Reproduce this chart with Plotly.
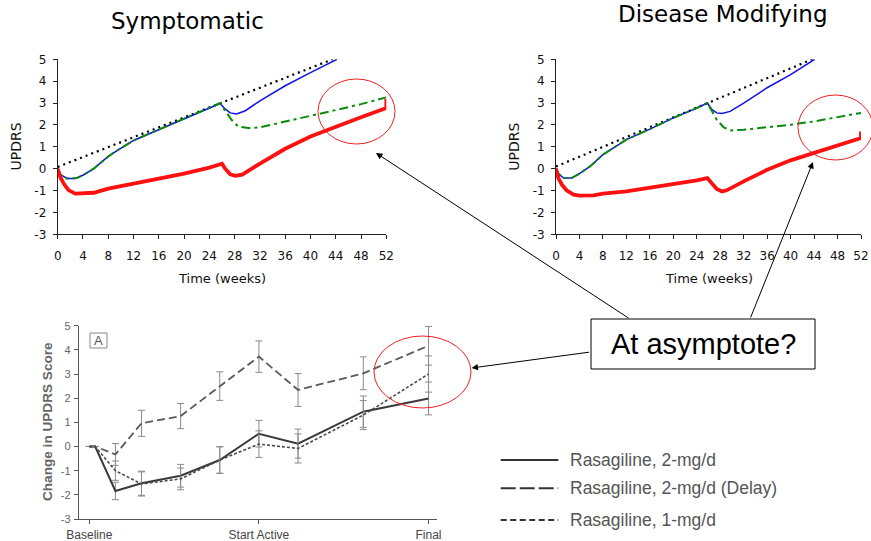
import plotly.graph_objects as go

W, H = 871, 541


def px(x):
    return x / W


def py(y):
    return 1 - y / H


# ---------------- data: top-left "Symptomatic" panel ----------------
sym_blue_wk = [0, 0.5, 1.5, 2.8, 4, 5.7, 8, 9.4, 12, 16, 20, 24, 25.7, 26.5, 27.3, 28.3, 29.7, 32, 36, 40, 44, 44.2]
sym_blue_val = [0, -0.28, -0.45, -0.45, -0.3, 0, 0.56, 0.83, 1.29, 1.79, 2.27, 2.77, 2.98, 2.73, 2.55, 2.5, 2.65, 3.1, 3.79, 4.39, 4.95, 5.0]

sym_green_wk = [0, 0.5, 1.2, 3.0, 4, 5.7, 8, 9.4, 12, 16, 20, 24, 25.7, 26.5, 27.6, 28.6, 30.2, 32, 36, 40, 44, 48, 52]
sym_green_val = [0, -0.3, -0.45, -0.43, -0.3, 0, 0.56, 0.83, 1.29, 1.79, 2.27, 2.77, 3.0, 2.65, 2.2, 1.92, 1.86, 1.89, 2.15, 2.39, 2.68, 2.95, 3.26]

sym_red_wk = [0, 0.4, 0.95, 1.7, 2.8, 4, 5.7, 8, 12, 16, 20, 24, 26, 26.5, 27.3, 28.1, 29.2, 32, 36, 40, 44, 48, 52, 52]
sym_red_val = [0, -0.38, -0.68, -0.98, -1.14, -1.14, -1.1, -0.91, -0.68, -0.45, -0.23, 0.05, 0.23, 0.0, -0.26, -0.33, -0.27, 0.23, 0.91, 1.47, 1.92, 2.35, 2.77, 3.18]

sym_black_wk = [0, 43.5]
sym_black_val = [0.08, 5.0]

# ---------------- data: top-right "Disease Modifying" panel ----------------
dm_blue_wk = [0, 0.5, 1.3, 2.7, 4, 5.8, 8, 12, 16, 20, 24, 25.8, 26.6, 27.4, 28.3, 29.7, 32, 36, 40, 44, 44.1]
dm_blue_val = [0, -0.25, -0.43, -0.43, -0.23, 0.1, 0.64, 1.33, 1.81, 2.32, 2.77, 3.0, 2.7, 2.55, 2.52, 2.62, 3.0, 3.7, 4.3, 4.98, 5.0]

dm_green_wk = [0, 0.5, 1.3, 2.7, 4, 5.8, 8, 12, 16, 20, 24, 25.8, 26.6, 27.4, 28.6, 29.7, 32, 36, 40, 44, 48, 52]
dm_green_val = [0, -0.27, -0.43, -0.42, -0.23, 0.1, 0.64, 1.33, 1.81, 2.32, 2.77, 3.0, 2.62, 2.24, 1.89, 1.75, 1.78, 1.89, 2.01, 2.16, 2.36, 2.55]

dm_red_wk = [0, 0.4, 1, 1.8, 3, 4, 6.4, 8, 12, 16, 20, 24, 25.8, 26.6, 27.4, 28.3, 29.1, 32, 36, 40, 44, 48, 52, 52]
dm_red_val = [0, -0.43, -0.73, -0.99, -1.19, -1.23, -1.22, -1.14, -1.04, -0.88, -0.73, -0.53, -0.43, -0.66, -0.93, -1.04, -0.99, -0.58, -0.05, 0.38, 0.72, 1.02, 1.4, 1.7]

dm_black_wk = [0, 43.7]
dm_black_val = [0.1, 5.0]

top_xticks = list(range(0, 53, 4))
top_yticks = [-3, -2, -1, 0, 1, 2, 3, 4, 5]
top_ytext = ["-3", "-2", "-1", "0", "1", "2", "3", "4", "5"]

# ---------------- data: bottom panel (trial) ----------------
trial_names = ["Rasagiline, 2-mg/d", "Rasagiline, 2-mg/d (Delay)", "Rasagiline, 1-mg/d"]
trial_wk = [0, 0.9, 4, 8, 14, 20, 26, 32, 42, 52]
trial_2mg = [0, 0, -1.84, -1.52, -1.21, -0.56, 0.53, 0.12, 1.44, 1.99]
trial_2mg_err = [None, None, 0.36, 0.5, 0.47, 0.55, 0.55, 0.6, 0.65, 0.68]
trial_delay = [0, 0, -0.33, 0.96, 1.26, 2.5, 3.72, 2.34, 3.03, 4.17]
trial_delay_err = [None, None, 0.45, 0.54, 0.52, 0.59, 0.65, 0.68, 0.68, 0.8]
trial_1mg = [0, 0, -1.0, -1.55, -1.34, -0.56, 0.1, -0.08, 1.3, 3.0]
trial_1mg_err = [None, None, 0.4, 0.5, 0.45, 0.55, 0.55, 0.6, 0.6, 0.75]
trial_xticks = [0, 26, 52]
trial_xtext = ["Baseline", "Start Active", "Final"]

TOPFONT = "DejaVu Sans, Liberation Sans, Arial, sans-serif"
NARROW = "Liberation Sans, Arial, sans-serif"

fig = go.Figure()


def add_model(xa, ya, bw, bv, gw, gv, rw, rv, kw, kv):
    fig.add_trace(go.Scatter(x=kw, y=kv, mode="lines", xaxis=xa, yaxis=ya,
                             line=dict(color="black", width=2.2, dash="2px,4px"), showlegend=False))
    fig.add_trace(go.Scatter(x=bw, y=bv, mode="lines", xaxis=xa, yaxis=ya,
                             line=dict(color="#1010ee", width=1.5), showlegend=False))
    fig.add_trace(go.Scatter(x=gw, y=gv, mode="lines", xaxis=xa, yaxis=ya,
                             line=dict(color="#0a8a0a", width=2, dash="9px,4px,3px,4px"), showlegend=False))
    fig.add_trace(go.Scatter(x=rw, y=rv, mode="lines", xaxis=xa, yaxis=ya,
                             line=dict(color="#ff1010", width=3.8), showlegend=False))


add_model("x", "y", sym_blue_wk, sym_blue_val, sym_green_wk, sym_green_val,
          sym_red_wk, sym_red_val, sym_black_wk, sym_black_val)
add_model("x2", "y2", dm_blue_wk, dm_blue_val, dm_green_wk, dm_green_val,
          dm_red_wk, dm_red_val, dm_black_wk, dm_black_val)

err_style = dict(type="data", color="#8a8a8a", thickness=1, width=3.5)
trial_series = [
    (trial_names[0], trial_2mg, trial_2mg_err, dict(color="#3a3a3a", width=2, dash="solid")),
    (trial_names[1], trial_delay, trial_delay_err, dict(color="#5a5a5a", width=1.8, dash="8px,4px")),
    (trial_names[2], trial_1mg, trial_1mg_err, dict(color="#4a4a4a", width=1.6, dash="3px,2px")),
]
for name, vals, errs, ln in trial_series:
    fig.add_trace(go.Scatter(x=trial_wk, y=vals, mode="lines", name=name, xaxis="x3", yaxis="y3",
                             line=ln, error_y=dict(array=errs, **err_style), showlegend=False))

top_axis = dict(showline=True, linecolor="#222", linewidth=1, ticks="outside", ticklen=4,
                tickcolor="#222", showgrid=False, zeroline=False, fixedrange=True, automargin=False,
                tickfont=dict(family=TOPFONT, size=12, color="#111"))
xdom_l = [px(57.7), px(386.3)]
xdom_r = [px(556), px(861)]
ydom_top = [py(234.3), py(59.3)]

fig.update_layout(
    width=W, height=H, margin=dict(l=0, r=0, t=0, b=0, autoexpand=False),
    paper_bgcolor="white", plot_bgcolor="white", showlegend=False,
    xaxis=dict(domain=xdom_l, range=[0, 52], tickvals=top_xticks, anchor="y",
               ticklabelstandoff=6, **top_axis),
    yaxis=dict(domain=ydom_top, range=[-3, 5], tickvals=top_yticks, ticktext=top_ytext,
               anchor="x", ticklabelstandoff=4, **top_axis),
    xaxis2=dict(domain=xdom_r, range=[0, 52], tickvals=top_xticks, anchor="y2",
                ticklabelstandoff=6, **top_axis),
    yaxis2=dict(domain=ydom_top, range=[-3, 5], tickvals=top_yticks, ticktext=top_ytext,
                anchor="x2", ticklabelstandoff=4, **top_axis),
    xaxis3=dict(domain=[px(79), px(437)], range=[-1.58, 53.3], tickvals=trial_xticks,
                ticktext=trial_xtext, anchor="y3", showline=True, linecolor="#555", linewidth=1.3,
                ticks="outside", ticklen=4, tickcolor="#555", showgrid=False, zeroline=False,
                fixedrange=True, ticklabelstandoff=0, automargin=False,
                tickfont=dict(family=NARROW, size=12, color="#444")),
    yaxis3=dict(domain=[py(519), py(325.7)], range=[-3, 5], tickvals=top_yticks, ticktext=top_ytext,
                anchor="x3", showline=True, linecolor="#555", linewidth=1.3, ticks="outside",
                ticklen=4, tickcolor="#555", showgrid=False, zeroline=False, fixedrange=True,
                ticklabelstandoff=1, automargin=False,
                tickfont=dict(family=NARROW, size=11, color="#666")),
)

shapes = []
annotations = []

# titles and axis titles
annotations += [
    dict(text="Symptomatic", x=px(187), y=py(21.5), xref="paper", yref="paper", showarrow=False,
         font=dict(family=TOPFONT, size=23, color="black"), xanchor="center", yanchor="middle"),
    dict(text="Disease Modifying", x=px(722.5), y=py(13.8), xref="paper", yref="paper", showarrow=False,
         font=dict(family=TOPFONT, size=23, color="black"), xanchor="center", yanchor="middle"),
    dict(text="Time (weeks)", x=px(221.8), y=py(278), xref="paper", yref="paper", showarrow=False,
         font=dict(family=TOPFONT, size=13, color="#111"), xanchor="center", yanchor="middle"),
    dict(text="Time (weeks)", x=px(708.5), y=py(278), xref="paper", yref="paper", showarrow=False,
         font=dict(family=TOPFONT, size=13, color="#111"), xanchor="center", yanchor="middle"),
    dict(text="UPDRS", x=px(15.7), y=py(146.7), xref="paper", yref="paper", showarrow=False, textangle=-90,
         font=dict(family=TOPFONT, size=14, color="#111"), xanchor="center", yanchor="middle"),
    dict(text="UPDRS", x=px(514), y=py(146.7), xref="paper", yref="paper", showarrow=False, textangle=-90,
         font=dict(family=TOPFONT, size=14, color="#111"), xanchor="center", yanchor="middle"),
    dict(text="<b>Change in UPDRS Score</b>", x=px(47.5), y=py(421.5), xref="paper", yref="paper",
         showarrow=False, textangle=-90,
         font=dict(family=NARROW, size=13.6, color="#666"), xanchor="center", yanchor="middle"),
    dict(text="A", x=px(98.5), y=py(340.5), xref="paper", yref="paper", showarrow=False,
         font=dict(family=NARROW, size=13, color="#555"), xanchor="center", yanchor="middle"),
]
shapes.append(dict(type="rect", xref="paper", yref="paper", x0=px(90), x1=px(107), y0=py(348), y1=py(333),
                   line=dict(color="#888", width=1)))

# red ellipses
for (x0, x1, y0, y1) in [(318, 395, 79, 144), (798, 873, 95, 160), (374, 471, 336, 408)]:
    shapes.append(dict(type="circle", xref="paper", yref="paper", x0=px(x0), x1=px(x1),
                       y0=py(y1), y1=py(y0), line=dict(color="#ee2222", width=1), layer="above"))

# arrows from the text box
for (tx, ty, ax, ay) in [(376, 153, 254, 166), (813, 162, -63, 157), (471.5, 368, 119, -16)]:
    annotations.append(dict(x=px(tx), y=py(ty), xref="paper", yref="paper", ax=ax, ay=ay, text="",
                            showarrow=True, arrowhead=2, arrowsize=1.3, arrowwidth=1, arrowcolor="black"))

# text box
shapes.append(dict(type="rect", xref="paper", yref="paper", x0=px(591), x1=px(815), y0=py(369), y1=py(319),
                   line=dict(color="black", width=1), fillcolor="white", layer="above"))
annotations.append(dict(text="At asymptote?", x=px(703), y=py(344), xref="paper", yref="paper",
                        showarrow=False, font=dict(family="Liberation Sans, Arial, sans-serif", size=29,
                                                   color="black"), xanchor="center", yanchor="middle"))

# legend for the trial panel
leg_dash = ["solid", "15px,4px", "6px,3.5px"]
leg_y = [460, 488.3, 520]
for name, ly, dsh in zip(trial_names, leg_y, leg_dash):
    shapes.append(dict(type="line", xref="paper", yref="paper", x0=px(500.7), x1=px(558.3),
                       y0=py(ly), y1=py(ly), line=dict(color="#333", width=2, dash=dsh)))
    annotations.append(dict(text=name, x=px(568), y=py(ly), xref="paper", yref="paper", showarrow=False,
                            xanchor="left", yanchor="middle",
                            font=dict(family=NARROW, size=17.5, color="#555")))

fig.update_layout(shapes=shapes, annotations=annotations)
fig.write_html("out.html")
